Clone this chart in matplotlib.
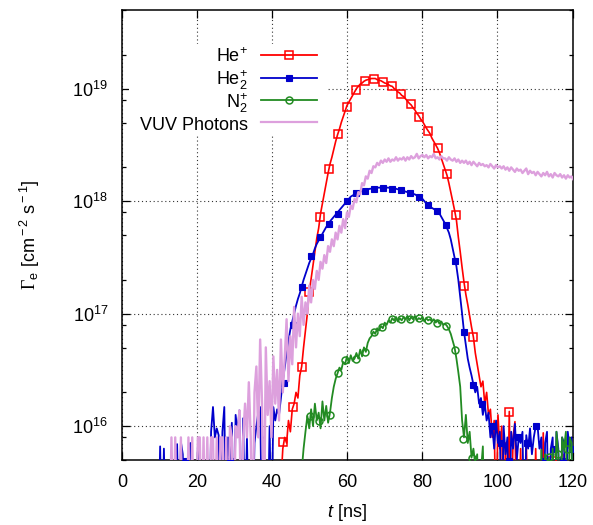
import numpy as np
import matplotlib
matplotlib.use('Agg')
import matplotlib.pyplot as plt
from matplotlib.lines import Line2D
from matplotlib.patches import Rectangle
from matplotlib.ticker import LogLocator, NullFormatter, FixedLocator, FixedFormatter

plt.rcParams['font.family'] = ['Liberation Sans', 'DejaVu Sans']
plt.rcParams['mathtext.fontset'] = 'custom'
plt.rcParams['mathtext.rm'] = 'Liberation Sans'
plt.rcParams['mathtext.it'] = 'Liberation Sans:italic'
plt.rcParams['mathtext.bf'] = 'Liberation Serif'

# ---------------- data (log10 of flux, cm^-2 s^-1) ----------------
dt = 0.5027  # ns between samples

vuv_t0 = 10.66
vuv_log = [
    15.0, 15.0, 15.0, 15.0, 15.0, 15.9, 15.0, 15.9, 15.0, 15.0,
    15.9, 15.0, 15.0, 15.0, 15.9, 15.0, 15.9, 15.0, 15.0, 15.9,
    15.9, 15.0, 15.9, 15.0, 15.9, 15.0, 15.9, 15.9, 15.0, 15.9,
    15.0, 15.9, 15.9, 15.0, 15.9, 15.0, 16.0, 15.9, 15.0, 16.0,
    15.9, 16.14, 15.0, 15.9, 16.2, 15.9, 16.39, 15.9, 15.0, 16.3,
    16.53, 15.9, 16.77, 16.2, 15.0, 16.7, 16.1, 16.4, 15.9, 16.62,
    16.2, 16.5, 16.05, 16.77, 16.3, 16.6, 16.95, 16.4, 16.8, 16.55,
    17.06, 16.7, 17.0, 16.8, 17.15, 16.9, 17.1, 17.0, 17.25, 17.1,
    17.3, 17.22, 17.38, 17.3, 17.46, 17.4, 17.52, 17.45, 17.6, 17.55,
    17.66, 17.6, 17.72, 17.66, 17.78, 17.72, 17.84, 17.76, 17.9, 17.86,
    17.96, 17.93, 18.02, 17.99, 18.08, 18.06, 18.16, 18.14, 18.22, 18.2,
    18.27, 18.25, 18.31, 18.3, 18.34, 18.32, 18.36, 18.34, 18.37, 18.35,
    18.38, 18.35, 18.37, 18.36, 18.39, 18.36, 18.38, 18.37, 18.39, 18.36,
    18.39, 18.37, 18.4, 18.38, 18.39, 18.42, 18.38, 18.4, 18.41, 18.39,
    18.41, 18.38, 18.4, 18.39, 18.42, 18.38, 18.39, 18.37, 18.4, 18.38,
    18.38, 18.36, 18.39, 18.37, 18.36, 18.38, 18.35, 18.37, 18.34, 18.36,
    18.34, 18.36, 18.33, 18.35, 18.32, 18.35, 18.33, 18.31, 18.34, 18.32,
    18.33, 18.31, 18.32, 18.3, 18.33, 18.31, 18.29, 18.32, 18.3, 18.31,
    18.29, 18.31, 18.28, 18.3, 18.27, 18.3, 18.28, 18.26, 18.29, 18.27,
    18.28, 18.25, 18.27, 18.29, 18.24, 18.27, 18.25, 18.26, 18.23, 18.26,
    18.24, 18.22, 18.25, 18.23, 18.26, 18.22, 18.24, 18.21, 18.25, 18.23,
    18.22, 18.24, 18.21, 18.23, 18.2, 18.23, 18.21, 18.22, 18.19, 18.22,
    18.21]

he2_t0 = 8.65
he2_log = [
    15.0, 15.0, 15.0, 15.82, 15.0, 15.8, 15.0, 15.0, 15.0, 15.0,
    15.0, 15.0, 15.84, 15.0, 15.86, 15.75, 15.0, 15.0, 15.0, 15.85,
    15.0, 15.0, 15.0, 15.82, 15.0, 15.0, 15.0, 15.0, 15.0, 15.0,
    15.95, 16.17, 15.9, 15.98, 15.92, 15.0, 15.95, 16.17, 15.0, 15.9,
    15.7, 16.03, 15.0, 16.1, 15.95, 16.14, 15.0, 16.07, 15.0, 15.9,
    15.0, 15.0, 15.0, 15.85, 16.0, 16.12, 16.17, 15.0, 15.9, 15.0,
    15.0, 16.0, 15.0, 16.17, 16.05, 16.15, 16.1, 16.25, 16.4, 16.52,
    16.64, 16.76, 16.86, 16.93, 17.0, 17.07, 17.13, 17.18, 17.24, 17.3,
    17.35, 17.4, 17.45, 17.49, 17.53, 17.58, 17.62, 17.65, 17.68, 17.71,
    17.74, 17.77, 17.79, 17.82, 17.84, 17.86, 17.88, 17.9, 17.92, 17.94,
    17.96, 17.98, 18.0, 18.02, 18.04, 18.05, 18.06, 18.07, 18.08, 18.085,
    18.09, 18.095, 18.1, 18.1, 18.11, 18.11, 18.11, 18.115, 18.12, 18.12,
    18.12, 18.12, 18.12, 18.12, 18.12, 18.115, 18.11, 18.11, 18.11, 18.105,
    18.1, 18.095, 18.09, 18.085, 18.08, 18.075, 18.07, 18.065, 18.06, 18.05,
    18.04, 18.03, 18.02, 18.0, 17.98, 17.96, 17.95, 17.94, 17.93, 17.92,
    17.91, 17.89, 17.86, 17.83, 17.8, 17.76, 17.72, 17.66, 17.58, 17.5,
    17.42, 17.3, 17.15, 17.0, 16.84, 16.72, 16.6, 16.52, 16.45, 16.37,
    16.3, 16.35, 16.2, 16.25, 16.1, 16.2, 16.05, 16.12, 15.9, 16.0,
    15.8, 16.05, 15.85, 15.95, 15.0, 16.0, 15.75, 15.9, 15.0, 15.95,
    15.8, 16.02, 15.7, 15.9, 15.85, 15.95, 15.0, 15.92, 15.8, 15.98,
    15.75, 15.9, 16.0, 16.0, 15.8, 15.9, 15.0, 15.85, 15.95, 15.0,
    15.8, 15.9, 15.0, 15.95, 15.8, 15.0, 15.9, 15.85, 15.0, 15.95,
    15.8, 15.9, 15.0, 15.85, 15.75]

he_t0 = 41.83
he_log = [
    15.0, 15.5, 15.8, 15.9, 15.85, 16.05, 15.95, 16.15, 16.2, 16.3,
    16.25, 16.45, 16.53, 16.7, 16.85, 17.0, 17.19, 17.31, 17.43, 17.55,
    17.67, 17.76, 17.89, 17.98, 18.07, 18.16, 18.25, 18.33, 18.39, 18.46,
    18.53, 18.59, 18.64, 18.70, 18.75, 18.80, 18.85, 18.88, 18.91, 18.94,
    18.97, 19.0, 19.02, 19.04, 19.05, 19.065, 19.075, 19.08, 19.085, 19.09,
    19.09, 19.09, 19.08, 19.075, 19.07, 19.06, 19.05, 19.045, 19.035, 19.025,
    19.02, 19.0, 18.99, 18.97, 18.96, 18.94, 18.93, 18.91, 18.89, 18.87,
    18.855, 18.83, 18.81, 18.78, 18.76, 18.73, 18.71, 18.68, 18.65, 18.625,
    18.6, 18.56, 18.53, 18.5, 18.47, 18.43, 18.38, 18.33, 18.28, 18.23,
    18.16, 18.08, 18.0, 17.92, 17.83, 17.68, 17.55, 17.41, 17.28, 17.17,
    17.08, 16.98, 16.88, 16.79, 16.65, 16.55, 16.45, 16.35, 16.4, 16.2,
    16.3, 16.1, 16.15, 15.9, 16.05, 15.0, 16.1, 15.8, 16.0, 15.0,
    15.85, 15.0, 16.13, 15.0, 15.9, 16.04, 15.0, 15.0, 15.8, 15.0,
    15.0, 15.88, 15.0, 15.0, 15.0, 15.0, 15.8, 15.0, 15.0, 15.0,
    15.94, 15.0, 15.0, 15.0, 15.7, 15.0, 15.0, 15.0, 15.0, 15.0,
    15.0, 15.75, 15.0, 15.0, 15.0, 15.0, 15.8, 15.0, 15.0]

n2_t0 = 47.36
n2_log = [
    15.0, 15.6, 15.8, 15.95, 16.09, 15.98, 16.15, 16.0, 16.2, 16.05,
    16.12, 15.98, 16.22, 16.05, 16.18, 16.03, 16.12, 16.25, 16.35, 16.42,
    16.47, 16.52, 16.5, 16.57, 16.55, 16.62, 16.56, 16.63, 16.58, 16.6,
    16.65, 16.6, 16.68, 16.62, 16.7, 16.66, 16.74, 16.78, 16.8, 16.84,
    16.82, 16.87, 16.85, 16.89, 16.87, 16.92, 16.9, 16.94, 16.92, 16.96,
    16.94, 16.97, 16.93, 16.96, 16.94, 16.97, 16.95, 16.98, 16.94, 16.97,
    16.95, 16.98, 16.94, 16.96, 16.95, 16.97, 16.93, 16.96, 16.94, 16.95,
    16.93, 16.95, 16.92, 16.94, 16.91, 16.93, 16.9, 16.91, 16.89, 16.86,
    16.82, 16.76, 16.7, 16.6, 16.48, 16.35, 16.05, 15.9, 16.1, 15.85,
    15.95, 15.72, 15.8, 15.65, 15.75, 15.0, 15.6, 15.82, 15.0, 15.0,
    15.0, 15.0, 15.0, 15.0, 15.0, 15.0, 15.0, 15.0, 15.0, 15.0,
    15.0, 15.0, 15.0, 15.0, 15.0, 15.0, 15.0, 15.0, 15.0, 15.0,
    15.0, 15.0, 15.0, 15.0, 15.0, 15.0, 15.0, 15.0, 15.79, 15.0,
    15.75, 15.0, 15.72, 15.0, 15.8, 15.0, 15.95, 15.75, 15.0, 15.9,
    15.8, 15.95, 15.0, 15.9, 15.85, 15.0, 15.92, 15.8]

# point symbols (subset of samples, as drawn in the figure)
he_mk_t = [42.9, 45.55, 48.06, 49.87, 52.68, 55.1, 57.51, 59.82, 62.24, 64.65,
           67.06, 69.47, 71.89, 74.3, 76.91, 79.23, 81.64, 84.05, 86.46, 88.88,
           91.19, 93.6, 103.05, 114.61]
he_mk_log = [15.86, 16.17, 16.53, 17.19, 17.855, 18.29, 18.60, 18.84, 18.99, 19.07,
             19.09, 19.06, 19.02, 18.95, 18.86, 18.75, 18.62, 18.47, 18.24, 17.88,
             17.25, 16.79, 16.13, 15.69]

he2_mk_t = [16.8, 28.76, 43.13, 45.55, 47.96, 50.47, 52.79, 55.1, 57.51, 59.92,
            62.34, 64.75, 67.16, 69.47, 71.89, 74.3, 76.71, 79.13, 81.64, 83.95,
            86.36, 88.78, 91.09, 93.6, 96.01, 98.43, 100.84, 103.05, 105.46, 107.88,
            110.29, 112.6, 115.01, 117.43, 119.84]
he2_mk_log = [15.69, 15.69, 16.38, 16.9, 17.24, 17.51, 17.68, 17.80, 17.89, 18.0,
              18.07, 18.09, 18.11, 18.12, 18.11, 18.10, 18.07, 18.04, 17.97, 17.91,
              17.79, 17.47, 16.84, 16.37, 16.2, 16.0, 15.85, 15.69, 15.9, 15.85,
              16.0, 15.69, 15.8, 15.69, 15.8]

n2_mk_t = [50.17, 52.58, 55.3, 57.51, 59.52, 62.34, 64.85, 67.06, 69.37, 71.89,
           74.4, 76.81, 79.23, 81.64, 83.95, 86.26, 88.68, 90.89, 93.2, 113.8,
           116.2, 118.6]
n2_mk_log = [16.09, 16.05, 16.1, 16.47, 16.59, 16.60, 16.66, 16.84, 16.88, 16.95,
             16.95, 16.95, 16.96, 16.94, 16.92, 16.89, 16.68, 15.89, 15.72, 15.73,
             15.75, 15.8]

labels = [r'He$^{+}$', r'He$_{2}^{+}$', r'N$_{2}^{+}$', 'VUV Photons']
colors = ['#ff0000', '#0000cc', '#228b22', '#dda0dd']
x_ticks = [0, 20, 40, 60, 80, 100, 120]
y_ticks = [1e16, 1e17, 1e18, 1e19]
y_ticklabels = [r'$10^{16}$', r'$10^{17}$', r'$10^{18}$', r'$10^{19}$']


def series(t0, logs):
    v = np.array(logs, dtype=float)
    t = t0 + dt * np.arange(len(v))
    return t, 10.0 ** v


fig = plt.figure(figsize=(5.93, 5.25), dpi=100)
ax = fig.add_axes([122 / 593, 1 - 460 / 525, 450.5 / 593, 450 / 525])
ax.set_yscale('log')

# He+
t, v = series(he_t0, he_log)
ax.plot(t, v, color=colors[0], lw=1.2, zorder=3)
ax.plot(he_mk_t, 10.0 ** np.array(he_mk_log), ls='none', marker='s', ms=5.8,
        mfc='none', mec=colors[0], mew=1.1, zorder=3)
# He2+
t, v = series(he2_t0, he2_log)
ax.plot(t, v, color=colors[1], lw=1.3, zorder=3)
ax.plot(he2_mk_t, 10.0 ** np.array(he2_mk_log), ls='none', marker='s', ms=5.0,
        mfc=colors[1], mec=colors[1], mew=0.8, zorder=3)
# N2+
t, v = series(n2_t0, n2_log)
ax.plot(t, v, color=colors[2], lw=1.3, zorder=3)
ax.plot(n2_mk_t, 10.0 ** np.array(n2_mk_log), ls='none', marker='o', ms=5.0,
        mfc='none', mec=colors[2], mew=1.1, zorder=3)
# VUV photons
t, v = series(vuv_t0, vuv_log)
ax.plot(t, v, color=colors[3], lw=1.7, zorder=3)

ax.set_xlim(0, 120)
ax.set_ylim(5e15, 5e19)
ax.set_xticks(x_ticks)
ax.yaxis.set_major_locator(FixedLocator(y_ticks))
ax.yaxis.set_major_formatter(FixedFormatter(y_ticklabels))
ax.yaxis.set_minor_locator(LogLocator(base=10, subs=[2, 5, 8]))
ax.yaxis.set_minor_formatter(NullFormatter())

ax.tick_params(which='both', direction='in', top=True, right=True, width=0.9,
               labelsize=13, pad=10)
ax.tick_params(which='major', length=6)
ax.tick_params(which='minor', length=3)
for s in ax.spines.values():
    s.set_linewidth(1.1)

ax.set_axisbelow(True)
ax.grid(True, which='major', color='0.2', lw=0.8, ls=(0, (1, 2.5)))

ax.set_xlabel(r'$t$ [ns]', fontsize=13, labelpad=8)
ax.set_ylabel(r'$\mathbf{\Gamma}_{\rm e}$ [cm$^{\rm -2}$ s$^{\rm -1}$]', fontsize=13, labelpad=22)

# key (gnuplot style: right-aligned text, sample to the right)
ax.add_patch(Rectangle((0.015, 0.724), 0.44, 0.20, transform=ax.transAxes,
                       facecolor='white', edgecolor='none', zorder=1))
rows_y = [0.9007, 0.8496, 0.800, 0.7511]
mk = [dict(marker='s', ms=5.8, mfc='none', mec=colors[0], mew=1.1),
      dict(marker='s', ms=5.0, mfc=colors[1], mec=colors[1], mew=0.8),
      dict(marker='o', ms=5.0, mfc='none', mec=colors[2], mew=1.1),
      None]
for lab, c, y, m in zip(labels, colors, rows_y, mk):
    ax.text(0.2797, y - 0.017, lab, transform=ax.transAxes, ha='right',
            va='baseline', fontsize=13, zorder=4)
    ax.add_line(Line2D([0.3085, 0.4329], [y, y], transform=ax.transAxes,
                       color=c, lw=1.6 if m is None else 1.3, zorder=4))
    if m is not None:
        ax.add_line(Line2D([0.3707], [y], transform=ax.transAxes, ls='none',
                           zorder=4, **m))

fig.savefig('out.png', dpi=100)
